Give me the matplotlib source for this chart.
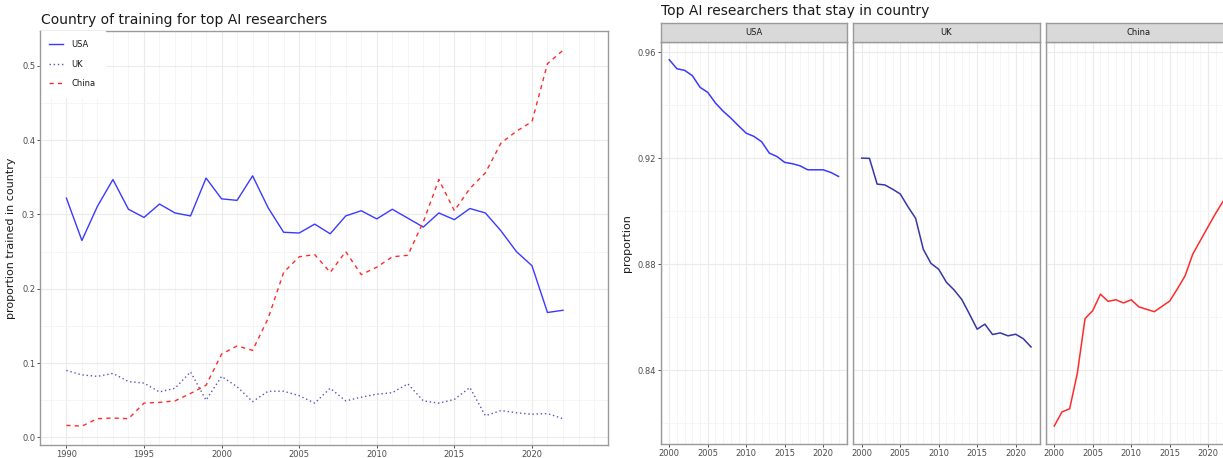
import matplotlib
matplotlib.use("Agg")
import matplotlib.pyplot as plt
import matplotlib.ticker as mticker
import numpy as np

plt.rcParams.update({
    "font.family": "DejaVu Sans",
    "font.size": 6,
})

# ── data: country of training (1990-2022) ───────────────────────────────
years_train = np.arange(1990, 2023)
usa_train = [0.322, 0.265, 0.311, 0.347, 0.307, 0.296, 0.314, 0.302, 0.298, 0.349,
             0.321, 0.319, 0.352, 0.309, 0.276, 0.275, 0.287, 0.274, 0.298, 0.305,
             0.294, 0.307, 0.295, 0.283, 0.302, 0.293, 0.308, 0.302, 0.278, 0.250,
             0.231, 0.168, 0.171]
uk_train = [0.090, 0.084, 0.082, 0.086, 0.075, 0.073, 0.061, 0.066, 0.088, 0.050,
            0.082, 0.068, 0.048, 0.062, 0.062, 0.056, 0.046, 0.066, 0.049, 0.054,
            0.058, 0.060, 0.072, 0.049, 0.046, 0.051, 0.067, 0.029, 0.036, 0.033,
            0.031, 0.032, 0.025]
china_train = [0.016, 0.015, 0.025, 0.026, 0.025, 0.046, 0.047, 0.049, 0.059, 0.070,
               0.112, 0.123, 0.117, 0.160, 0.222, 0.243, 0.246, 0.222, 0.250, 0.219,
               0.229, 0.243, 0.245, 0.290, 0.347, 0.305, 0.335, 0.356, 0.396, 0.412,
               0.425, 0.503, 0.521]

# ── data: researchers that stay in country (2000-2022) ──────────────────
years_stay = np.arange(2000, 2023)
usa_stay = [0.9571, 0.9537, 0.9531, 0.9511, 0.9467, 0.9448, 0.9408, 0.9377, 0.9351,
            0.9322, 0.9294, 0.9282, 0.9262, 0.9219, 0.9206, 0.9184, 0.9179, 0.9171,
            0.9156, 0.9156, 0.9156, 0.9146, 0.9131]
uk_stay = [0.9200, 0.9199, 0.9102, 0.9099, 0.9083, 0.9065, 0.9017, 0.8973, 0.8856,
           0.8803, 0.8781, 0.8732, 0.8703, 0.8667, 0.8612, 0.8555, 0.8574, 0.8535,
           0.8541, 0.8530, 0.8536, 0.8519, 0.8488]
china_stay = [0.8190, 0.8243, 0.8255, 0.8389, 0.8595, 0.8625, 0.8687, 0.8660, 0.8666,
              0.8654, 0.8666, 0.8639, 0.8630, 0.8621, 0.8641, 0.8661, 0.8707, 0.8756,
              0.8838, 0.8890, 0.8942, 0.8993, 0.9040]

COUNTRIES = ["USA", "UK", "China"]
COL_USA = "#3a3aff"
COL_UK = "#3636a6"
COL_UK_DOT = "#5555bb"
COL_CHN = "#ff2b2b"

W, H = 1223, 458
fig = plt.figure(figsize=(W / 100, H / 100), dpi=100)


def px_axes(x0, y0, x1, y1):
    """Axes from pixel box (top-left origin)."""
    return fig.add_axes([x0 / W, 1 - y1 / H, (x1 - x0) / W, (y1 - y0) / H])


def style(ax):
    ax.set_facecolor("white")
    ax.grid(which="major", color="#ebebeb", lw=0.8, zorder=0)
    ax.grid(which="minor", color="#f4f4f4", lw=0.6, zorder=0)
    ax.set_axisbelow(True)
    for s in ax.spines.values():
        s.set_color("#9a9a9a")
        s.set_linewidth(1.0)
    ax.tick_params(which="major", length=2.5, width=0.6, color="#333333",
                   labelcolor="#4d4d4d", labelsize=6, pad=1)
    ax.tick_params(which="minor", length=0)


# ── left panel ──────────────────────────────────────────────────────────
ax = px_axes(40, 31, 608, 445)
style(ax)
ax.plot(years_train, usa_train, color=COL_USA, lw=1.0, ls="-", label="USA", zorder=3)
ax.plot(years_train, uk_train, color=COL_UK_DOT, lw=1.0, ls=(0, (1, 2)), label="UK", zorder=3)
ax.plot(years_train, china_train, color=COL_CHN, lw=1.0, ls=(0, (3, 3)), label="China", zorder=3)
ax.set_xlim(1988.3, 2024.9)
ax.set_ylim(-0.0104, 0.547)
ax.xaxis.set_major_locator(mticker.MultipleLocator(5))
ax.xaxis.set_minor_locator(mticker.MultipleLocator(1))
ax.yaxis.set_major_locator(mticker.MultipleLocator(0.1))
ax.yaxis.set_minor_locator(mticker.MultipleLocator(0.05))
ax.yaxis.set_major_formatter(mticker.FormatStrFormatter("%.1f"))
ax.set_ylabel("proportion trained in country", fontsize=8, color="#1a1a1a", labelpad=4)
leg = ax.legend(loc="upper left", bbox_to_anchor=(0, 1), fontsize=6, frameon=True,
                fancybox=False, borderaxespad=0, borderpad=1.1, handlelength=1.7,
                handletextpad=1.0, labelspacing=1.25)
leg.get_frame().set_facecolor("white")
leg.get_frame().set_edgecolor("white")
leg.get_frame().set_alpha(1)
for t in leg.get_texts():
    t.set_color("#1a1a1a")
# left border stays visible over the legend box, top border is hidden by it
ax.spines["left"].set_zorder(6)

fig.text(41 / W, 1 - 24 / H, "Country of training for top AI researchers",
         fontsize=10, color="#1a1a1a", va="baseline", ha="left")

# ── right facets ────────────────────────────────────────────────────────
stay_series = [usa_stay, uk_stay, china_stay]
stay_colors = [COL_USA, COL_UK, COL_CHN]
panel_x = [660.8, 853.3, 1045.8]
panel_w = 186.2
for i, (name, vals, col) in enumerate(zip(COUNTRIES, stay_series, stay_colors)):
    x0 = panel_x[i]
    a = px_axes(x0, 41.7, x0 + panel_w, 444.3)
    style(a)
    a.plot(years_stay, vals, color=col, lw=1.1, zorder=3)
    a.set_xlim(1998.9, 2023.1)
    a.set_ylim(0.8121, 0.9639)
    a.xaxis.set_major_locator(mticker.MultipleLocator(5))
    a.xaxis.set_minor_locator(mticker.MultipleLocator(1))
    a.yaxis.set_major_locator(mticker.MultipleLocator(0.04))
    a.yaxis.set_minor_locator(mticker.MultipleLocator(0.02))
    a.yaxis.set_major_formatter(mticker.FormatStrFormatter("%.2f"))
    if i == 0:
        a.set_ylabel("proportion", fontsize=8, color="#1a1a1a", labelpad=4)
    else:
        a.tick_params(axis="y", which="both", left=False, labelleft=False)

    # facet strip
    s = px_axes(x0, 23.3, x0 + panel_w, 41.7)
    s.set_facecolor("#d9d9d9")
    s.set_xticks([])
    s.set_yticks([])
    for sp in s.spines.values():
        sp.set_color("#9a9a9a")
        sp.set_linewidth(1.0)
    s.text(0.5, 0.5, name, transform=s.transAxes, ha="center", va="center",
           fontsize=6, color="#1a1a1a")

fig.text(661 / W, 1 - 15 / H, "Top AI researchers that stay in country",
         fontsize=10, color="#1a1a1a", va="baseline", ha="left")

fig.savefig("out.png", dpi=100, facecolor="white")
